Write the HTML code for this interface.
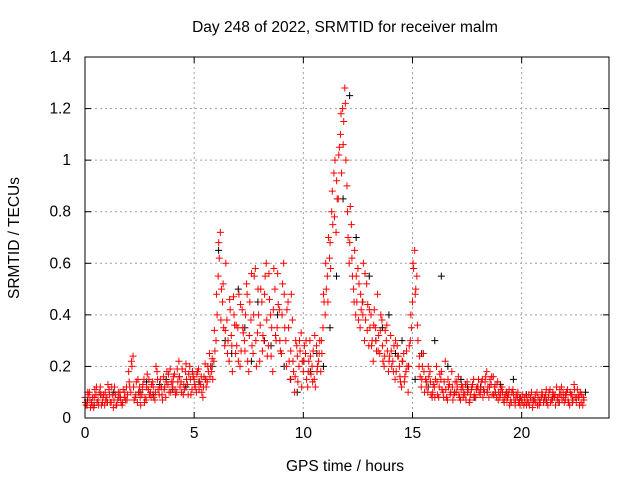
<!DOCTYPE html>
<html><head><meta charset="utf-8"><style>
body{margin:0;background:#fff;}
svg{display:block;font-family:"Liberation Sans",sans-serif;}
</style></head><body>
<svg id="chart" width="640" height="480" viewBox="0 0 640 480">
<rect width="640" height="480" fill="#fff"/>
<text x="345" y="32" font-size="15.5" text-anchor="middle">Day 248 of 2022, SRMTID for receiver malm</text>
<text x="345" y="471" font-size="15.5" text-anchor="middle">GPS time / hours</text>
<text transform="translate(19,238) rotate(-90)" font-size="15.5" text-anchor="middle">SRMTID / TECUs</text>
<g id="grid"></g>
<g id="ticks"></g>
<g id="black" stroke="#000" stroke-width="1"></g>
<g id="red" stroke="#f00" stroke-width="1"></g>
<rect x="85" y="57" width="524" height="361" fill="none" stroke="#000" stroke-width="1"/>
</svg>
<script>
const xTicks=[0,5,10,15,20];
const yTicks=[0,0.2,0.4,0.6,0.8,1,1.2,1.4];
const yTickLabels=["0","0.2","0.4","0.6","0.8","1","1.2","1.4"];
const seriesA=[.08,.05,.10,.06,.04,.09,.07,.12,.06,.05,.08,.11,.06,.04,.09,.07,.10,.05,.08,.12,
.18,.10,.24,.08,.06,.12,.09,.15,.07,.11,.10,.14,.07,.18,.09,.12,.16,.08,.13,.19,
.12,.17,.10,.22,.14,.09,.18,.13,.20,.11,.15,.10,.19,.13,.08,.21,.14,.25,.18,.22,
.30,.55,.72,.45,.28,.38,.22,.32,.47,.25,.35,.20,.42,.30,.52,.18,.38,.25,.58,.33,
.22,.45,.30,.60,.28,.40,.18,.50,.35,.42,.25,.60,.30,.45,.15,.38,.10,.28,.20,.33,
.18,.25,.12,.30,.20,.15,.28,.22,.18,.35,.40,.55,.62,.80,.95,.72,.85,1.10,1.20,1.28,
.90,.60,.75,.50,.40,.58,.35,.45,.30,.52,.28,.40,.22,.35,.48,.25,.38,.20,.30,.18,
.32,.22,.15,.28,.20,.12,.25,.18,.10,.30,.45,.65,.55,.20,.12,.25,.15,.10,.18,.08,
.12,.20,.08,.15,.10,.22,.07,.13,.18,.09,.10,.16,.07,.12,.09,.14,.06,.11,.15,.08,
.12,.09,.15,.10,.18,.08,.13,.16,.10,.14,.08,.12,.06,.10,.09,.07,.11,.05,.08,.06,
.07,.05,.09,.06,.08,.04,.07,.10,.05,.08,.06,.09,.05,.11,.07,.08,.12,.06,.09,.10,
.07,.11,.05,.09,.13,.06,.08,.10,.05];
const seriesB=[.05,.09,.04,.08,.11,.06,.10,.05,.09,.07,.13,.06,.09,.12,.05,.08,.06,.11,.07,.09,
.12,.20,.07,.14,.10,.05,.13,.08,.17,.09,.13,.08,.20,.11,.15,.07,.12,.18,.10,.14,
.16,.09,.14,.12,.19,.11,.15,.17,.09,.16,.12,.18,.14,.10,.16,.12,.18,.20,.15,.26,
.40,.62,.50,.35,.60,.30,.42,.18,.36,.28,.48,.26,.33,.40,.22,.45,.28,.55,.20,.40,
.50,.32,.55,.24,.46,.35,.58,.30,.44,.26,.52,.35,.42,.22,.48,.18,.30,.14,.26,.22,
.28,.15,.22,.17,.26,.12,.20,.30,.25,.45,.50,.70,.58,.75,1.00,.85,1.05,.95,1.15,1.00,
.70,.82,.55,.65,.45,.52,.42,.60,.38,.44,.35,.30,.42,.26,.32,.40,.22,.34,.26,.24,
.20,.28,.18,.24,.14,.22,.16,.20,.28,.35,.58,.50,.30,.16,.20,.10,.14,.16,.09,.13,
.15,.09,.17,.11,.14,.08,.12,.10,.07,.14,.12,.08,.13,.10,.07,.11,.09,.13,.08,.12,
.10,.14,.11,.16,.12,.15,.09,.12,.08,.10,.11,.07,.09,.08,.05,.10,.07,.09,.06,.08,
.09,.06,.07,.05,.10,.07,.06,.08,.06,.09,.08,.06,.10,.07,.09,.05,.08,.11,.07,.06,
.10,.06,.09,.07,.08,.11,.05,.09,.07];
const seriesC=[.06,.10,.07,.05,.08,.12,.05,.09,.08,.10,.06,.09,.12,.07,.05,.10,.08,.06,.10,.07,
.14,.22,.12,.09,.15,.08,.11,.06,.12,.15,.08,.12,.10,.15,.12,.09,.11,.14,.17,.10,
.14,.11,.19,.16,.10,.13,.21,.09,.15,.18,.13,.17,.11,.16,.12,.15,.20,.16,.23,.34,
.48,.68,.38,.52,.34,.25,.46,.28,.40,.36,.22,.44,.35,.26,.48,.32,.56,.40,.30,.50,
.36,.26,.48,.38,.56,.24,.42,.32,.56,.30,.40,.48,.20,.35,.26,.22,.16,.24,.30,.12,
.22,.30,.18,.24,.14,.32,.18,.25,.30,.48,.60,.45,.68,.88,.78,.92,1.02,1.18,1.06,1.22,
.80,.68,.62,.45,.55,.38,.48,.40,.56,.34,.42,.28,.36,.30,.26,.34,.28,.24,.36,.22,
.26,.18,.30,.24,.16,.22,.14,.26,.20,.40,.60,.48,.36,.24,.15,.18,.12,.20,.14,.10,
.08,.14,.12,.18,.08,.11,.15,.09,.12,.10,.14,.09,.11,.08,.13,.10,.07,.12,.09,.11,
.15,.11,.08,.14,.10,.12,.16,.09,.13,.07,.09,.10,.08,.07,.11,.06,.09,.07,.10,.05,
.06,.08,.05,.09,.07,.06,.09,.05,.07,.10,.07,.11,.08,.06,.10,.09,.07,.09,.12,.08,
.09,.07,.10,.06,.11,.08,.09,.06,.08];
const seriesBlack=[.07,.05,.09,.06,.10,.08,.07,.12,.10,.14,.09,.13,.15,.11,.16,.12,.18,.14,.15,.20,
.65,.30,.25,.50,.35,.22,.45,.30,.28,.40,.20,.15,.10,.22,.18,.25,.20,.35,.55,.85,
1.25,.70,.45,.55,.30,.35,.40,.25,.30,.20,.15,.25,.12,.30,.55,.20,.10,.15,.12,.08,
.12,.10,.09,.13,.10,.15,.08,.09,.07,.06,.07,.08,.06,.09,.07,.08,.10];
const X0=85,X1=609,Y0=418,Y1=57,XMAX=24,YMAX=1.4;
const sx=v=>X0+(X1-X0)*v/XMAX, sy=v=>Y0-(Y0-Y1)*v/YMAX;
const NS="http://www.w3.org/2000/svg";
function mk(tag,attrs,parent){const e=document.createElementNS(NS,tag);for(const k in attrs)e.setAttribute(k,attrs[k]);parent.appendChild(e);return e;}
const grid=document.getElementById('grid'),ticks=document.getElementById('ticks');
xTicks.forEach(t=>{const x=sx(t);
 if(t>0){const g=mk('line',{x1:x,x2:x,y1:Y1,y2:Y0,stroke:'#a0a0a0','stroke-dasharray':'2,3'},grid);}
 mk('line',{x1:x,x2:x,y1:Y0,y2:Y0-6,stroke:'#000'},ticks);mk('line',{x1:x,x2:x,y1:Y1,y2:Y1+6,stroke:'#000'},ticks);
 const l=mk('text',{x:x,y:Y0+20,'font-size':15.5,'text-anchor':'middle'},ticks);l.textContent=t;
 });
yTicks.forEach((t,i)=>{const y=sy(t);
 if(i>0&&i<yTicks.length-1){const g=mk('line',{x1:X0,x2:X1,y1:y,y2:y,stroke:'#a0a0a0','stroke-dasharray':'2,3'},grid);}
 mk('line',{x1:X0,x2:X0+6,y1:y,y2:y,stroke:'#000'},ticks);mk('line',{x1:X1,x2:X1-6,y1:y,y2:y,stroke:'#000'},ticks);
 const l=mk('text',{x:X0-14,y:y+5,'font-size':15.5,'text-anchor':'end'},ticks);l.textContent=yTickLabels[i];
 });
function plus(parent,t,v){const x=sx(t),y=sy(v);const p=mk('path',{d:`M${x-3.5} ${y}h7M${x} ${y-3.5}v7`},parent);
 }
const blk=document.getElementById('black'),red=document.getElementById('red');
seriesBlack.forEach((v,i)=>plus(blk,i*0.3+0.12,v));
seriesA.forEach((v,i)=>plus(red,i*0.1,v));
seriesB.forEach((v,i)=>plus(red,i*0.1+0.05,v));
seriesC.forEach((v,i)=>plus(red,i*0.1+0.025,v));
</script>
</body></html>
